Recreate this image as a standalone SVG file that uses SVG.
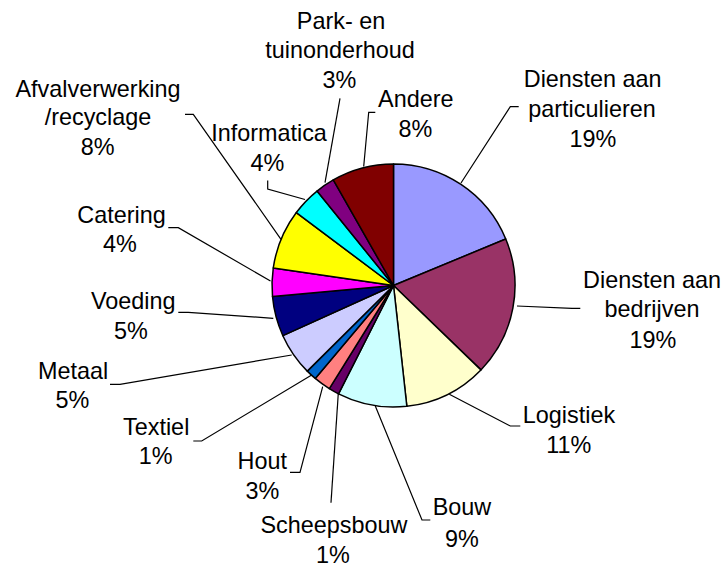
<svg xmlns="http://www.w3.org/2000/svg" width="724" height="565" viewBox="0 0 724 565">
<style>
.s{stroke:#000;stroke-width:1.5;stroke-linejoin:round}
.l{fill:none;stroke:#000;stroke-width:1.2}
text{font-family:"Liberation Sans",Arial,sans-serif;font-size:23.4px;fill:#000;text-anchor:middle}
</style>
<rect width="724" height="565" fill="#fff"/>
<g id="slices">
<g id="particulieren"><path class="s" fill="#9999FF" d="M393.5,285.5 L393.5,164 A121.5,121.5 0 0 1 505.75,239 Z"/></g>
<g id="bedrijven"><path class="s" fill="#993366" d="M393.5,285.5 L505.75,239 A121.5,121.5 0 0 1 480.9,369.9 Z"/></g>
<g id="logistiek"><path class="s" fill="#FFFFCC" d="M393.5,285.5 L480.9,369.9 A121.5,121.5 0 0 1 406.83,406.27 Z"/></g>
<g id="bouw"><path class="s" fill="#CCFFFF" d="M393.5,285.5 L406.83,406.27 A121.5,121.5 0 0 1 338.53,393.85 Z"/></g>
<g id="scheepsbouw"><path class="s" fill="#660066" d="M393.5,285.5 L338.53,393.85 A121.5,121.5 0 0 1 329.31,388.66 Z"/></g>
<g id="hout"><path class="s" fill="#FF8080" d="M393.5,285.5 L329.31,388.66 A121.5,121.5 0 0 1 315.24,378.44 Z"/></g>
<g id="textiel"><path class="s" fill="#0066CC" d="M393.5,285.5 L315.24,378.44 A121.5,121.5 0 0 1 307.28,371.11 Z"/></g>
<g id="metaal"><path class="s" fill="#CCCCFF" d="M393.5,285.5 L307.28,371.11 A121.5,121.5 0 0 1 282.85,335.69 Z"/></g>
<g id="voeding"><path class="s" fill="#000080" d="M393.5,285.5 L282.85,335.69 A121.5,121.5 0 0 1 272.5,296.51 Z"/></g>
<g id="catering"><path class="s" fill="#FF00FF" d="M393.5,285.5 L272.5,296.51 A121.5,121.5 0 0 1 273.27,267.96 Z"/></g>
<g id="afval"><path class="s" fill="#FFFF00" d="M393.5,285.5 L273.27,267.96 A121.5,121.5 0 0 1 296.34,212.55 Z"/></g>
<g id="informatica"><path class="s" fill="#00FFFF" d="M393.5,285.5 L296.34,212.55 A121.5,121.5 0 0 1 317.04,191.08 Z"/></g>
<g id="park"><path class="s" fill="#800080" d="M393.5,285.5 L317.04,191.08 A121.5,121.5 0 0 1 333.3,179.96 Z"/></g>
<g id="andere"><path class="s" fill="#800000" d="M393.5,285.5 L333.3,179.96 A121.5,121.5 0 0 1 393.5,164 Z"/></g>
</g>
<g id="connectors">
<polyline class="l" points="461,183 510.3,106.7 518.7,106.7"/>
<polyline class="l" points="517,306 572,308.3 580.3,308.3"/>
<polyline class="l" points="449.3,394.3 510.3,426 520.3,426"/>
<polyline class="l" points="375.3,406 422,520 430.3,520"/>
<polyline class="l" points="338.3,393.3 331,502.7"/>
<polyline class="l" points="322.7,386.7 300,472.3 290,472.3"/>
<polyline class="l" points="311.7,375 201.7,441 193.3,441"/>
<polyline class="l" points="291.7,355 120,384.3 110,384.3"/>
<polyline class="l" points="273.3,318.3 188.3,312.3 178.3,312.3"/>
<polyline class="l" points="270.5,281 178.3,227.7 168.3,227.7"/>
<polyline class="l" points="281,239.3 193.3,114.3 185,114.3"/>
<polyline class="l" points="305,199.5 267.7,189 267.7,180.5"/>
<polyline class="l" points="325,182.7 340,98.3"/>
<polyline class="l" points="363.7,166.5 368.7,112.3 375.3,112.3"/>
</g>
<g id="labels">
<text x="592.7" y="87.3">Diensten aan</text>
<text x="592" y="116.7">particulieren</text>
<text x="593" y="146.7">19%</text>
<text x="652" y="287.6">Diensten aan</text>
<text x="652" y="317.3">bedrijven</text>
<text x="653" y="348.3">19%</text>
<text x="569" y="423.3">Logistiek</text>
<text x="568.7" y="453.3">11%</text>
<text x="462" y="515">Bouw</text>
<text x="462" y="546.7">9%</text>
<text x="334" y="532.7">Scheepsbouw</text>
<text x="333" y="562.7">1%</text>
<text x="262.3" y="469.3">Hout</text>
<text x="262.3" y="499">3%</text>
<text x="156.2" y="435">Textiel</text>
<text x="155.7" y="464.3">1%</text>
<text x="73" y="379">Metaal</text>
<text x="72.3" y="408.3">5%</text>
<text x="133.3" y="309.3">Voeding</text>
<text x="131" y="339.3">5%</text>
<text x="121.5" y="222.7">Catering</text>
<text x="120" y="252.3">4%</text>
<text x="98" y="96.7">Afvalverwerking</text>
<text x="98" y="125">/recyclage</text>
<text x="97.7" y="155">8%</text>
<text x="269" y="140.7">Informatica</text>
<text x="267.3" y="170.7">4%</text>
<text x="341" y="29.3">Park- en</text>
<text x="340" y="58.3">tuinonderhoud</text>
<text x="339.5" y="88.3">3%</text>
<text x="415.8" y="107.3">Andere</text>
<text x="415.3" y="137.3">8%</text>
</g>
</svg>
